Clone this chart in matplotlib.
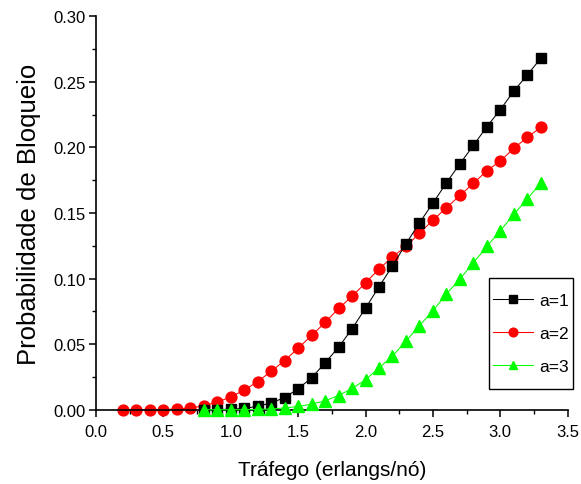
import matplotlib
matplotlib.use("Agg")
import matplotlib.pyplot as plt
from matplotlib.ticker import MultipleLocator
from matplotlib.patches import Rectangle

plt.rcParams['font.family'] = ['Liberation Sans', 'DejaVu Sans']

x_a1 = [0.8, 0.9, 1.0, 1.1, 1.2, 1.3, 1.4, 1.5, 1.6, 1.7, 1.8, 1.9, 2.0, 2.1,
        2.2, 2.3, 2.4, 2.5, 2.6, 2.7, 2.8, 2.9, 3.0, 3.1, 3.2, 3.3]
y_a1 = [0.0, 0.0001, 0.0004, 0.001, 0.0026, 0.0052, 0.0092, 0.016, 0.0243,
        0.0358, 0.0476, 0.0617, 0.0775, 0.0937, 0.1097, 0.1265, 0.1425, 0.1575,
        0.173, 0.1875, 0.2015, 0.2158, 0.2288, 0.243, 0.2552, 0.268]

x_a2 = [0.2, 0.3, 0.4, 0.5, 0.6, 0.7, 0.8, 0.9, 1.0, 1.1, 1.2, 1.3, 1.4, 1.5,
        1.6, 1.7, 1.8, 1.9, 2.0, 2.1, 2.2, 2.3, 2.4, 2.5, 2.6, 2.7, 2.8, 2.9,
        3.0, 3.1, 3.2, 3.3]
y_a2 = [0.0, 0.0, 0.0, 0.0001, 0.0005, 0.0012, 0.003, 0.0058, 0.0097, 0.015,
        0.0214, 0.0293, 0.0375, 0.0469, 0.0566, 0.0665, 0.0772, 0.0864, 0.0968,
        0.1072, 0.1166, 0.1245, 0.1345, 0.1446, 0.154, 0.1634, 0.1726, 0.1822,
        0.1896, 0.1993, 0.2077, 0.2153]

x_a3 = [0.8, 0.9, 1.0, 1.1, 1.2, 1.3, 1.4, 1.5, 1.6, 1.7, 1.8, 1.9, 2.0, 2.1,
        2.2, 2.3, 2.4, 2.5, 2.6, 2.7, 2.8, 2.9, 3.0, 3.1, 3.2, 3.3]
y_a3 = [0.0, 0.0, 0.0, 0.0, 0.0002, 0.0006, 0.0013, 0.0025, 0.0042, 0.0068,
        0.0108, 0.0162, 0.0228, 0.0318, 0.041, 0.0522, 0.0642, 0.0754, 0.0883,
        0.0996, 0.112, 0.1245, 0.1364, 0.149, 0.1606, 0.173]

labels = ["a=1", "a=2", "a=3"]
x_ticks = [0.0, 0.5, 1.0, 1.5, 2.0, 2.5, 3.0, 3.5]
y_ticks = [0.00, 0.05, 0.10, 0.15, 0.20, 0.25, 0.30]

fig = plt.figure(figsize=(5.81, 4.85), dpi=100)
ax = fig.add_axes([0.1652, 0.1532, 0.9771 - 0.1652, 0.9643 - 0.1532])

ax.plot(x_a1, y_a1, color='black', lw=0.75, marker='s', ms=7.0,
        mec='black', mfc='black', label=labels[0], clip_on=False, zorder=3)
ax.plot(x_a2, y_a2, color='#ff0000', lw=0.75, marker='o', ms=7.8,
        mec='#ff0000', mfc='#ff0000', label=labels[1], clip_on=False, zorder=2)
ax.plot(x_a3, y_a3, color='#00ff00', lw=0.75, marker='^', ms=8.0,
        mec='#00ff00', mfc='#00ff00', label=labels[2], clip_on=False, zorder=4)

ax.set_xlim(0, 3.5)
ax.set_ylim(0, 0.30)
ax.set_xticks(x_ticks)
ax.set_xticklabels([f"{v:.1f}" for v in x_ticks])
ax.set_yticks(y_ticks)
ax.set_yticklabels([f"{v:.2f}" for v in y_ticks])
ax.xaxis.set_minor_locator(MultipleLocator(0.25))
ax.yaxis.set_minor_locator(MultipleLocator(0.025))

for s in ['top', 'right']:
    ax.spines[s].set_visible(False)
for s in ['left', 'bottom']:
    ax.spines[s].set_linewidth(1.2)

ax.tick_params(axis='both', which='major', direction='out', length=5,
               width=1.1, labelsize=12)
ax.tick_params(axis='both', which='minor', direction='out', length=2.7,
               width=1.0)
ax.tick_params(axis='x', which='major', pad=5.5)
ax.tick_params(axis='y', which='major', pad=2.5)

ax.set_xlabel("Tráfego (erlangs/nó)", fontsize=15, labelpad=15)
ax.set_ylabel("Probabilidade de Bloqueio", fontsize=18.5, labelpad=9)

# legend frame
frame = Rectangle((0.833, 0.0526), 0.178, 0.2824, transform=ax.transAxes,
                  facecolor='white', edgecolor='black', linewidth=1.0,
                  clip_on=False, zorder=5)
ax.add_patch(frame)
leg = ax.legend(loc='center', bbox_to_anchor=(0.922, 0.1938),
                borderaxespad=0, fontsize=12.5, frameon=False,
                handlelength=2.3, handletextpad=0.35,
                labelspacing=1.05, borderpad=0.3, markerscale=0.8)
leg.set_zorder(6)

fig.savefig("out.png", dpi=100)
